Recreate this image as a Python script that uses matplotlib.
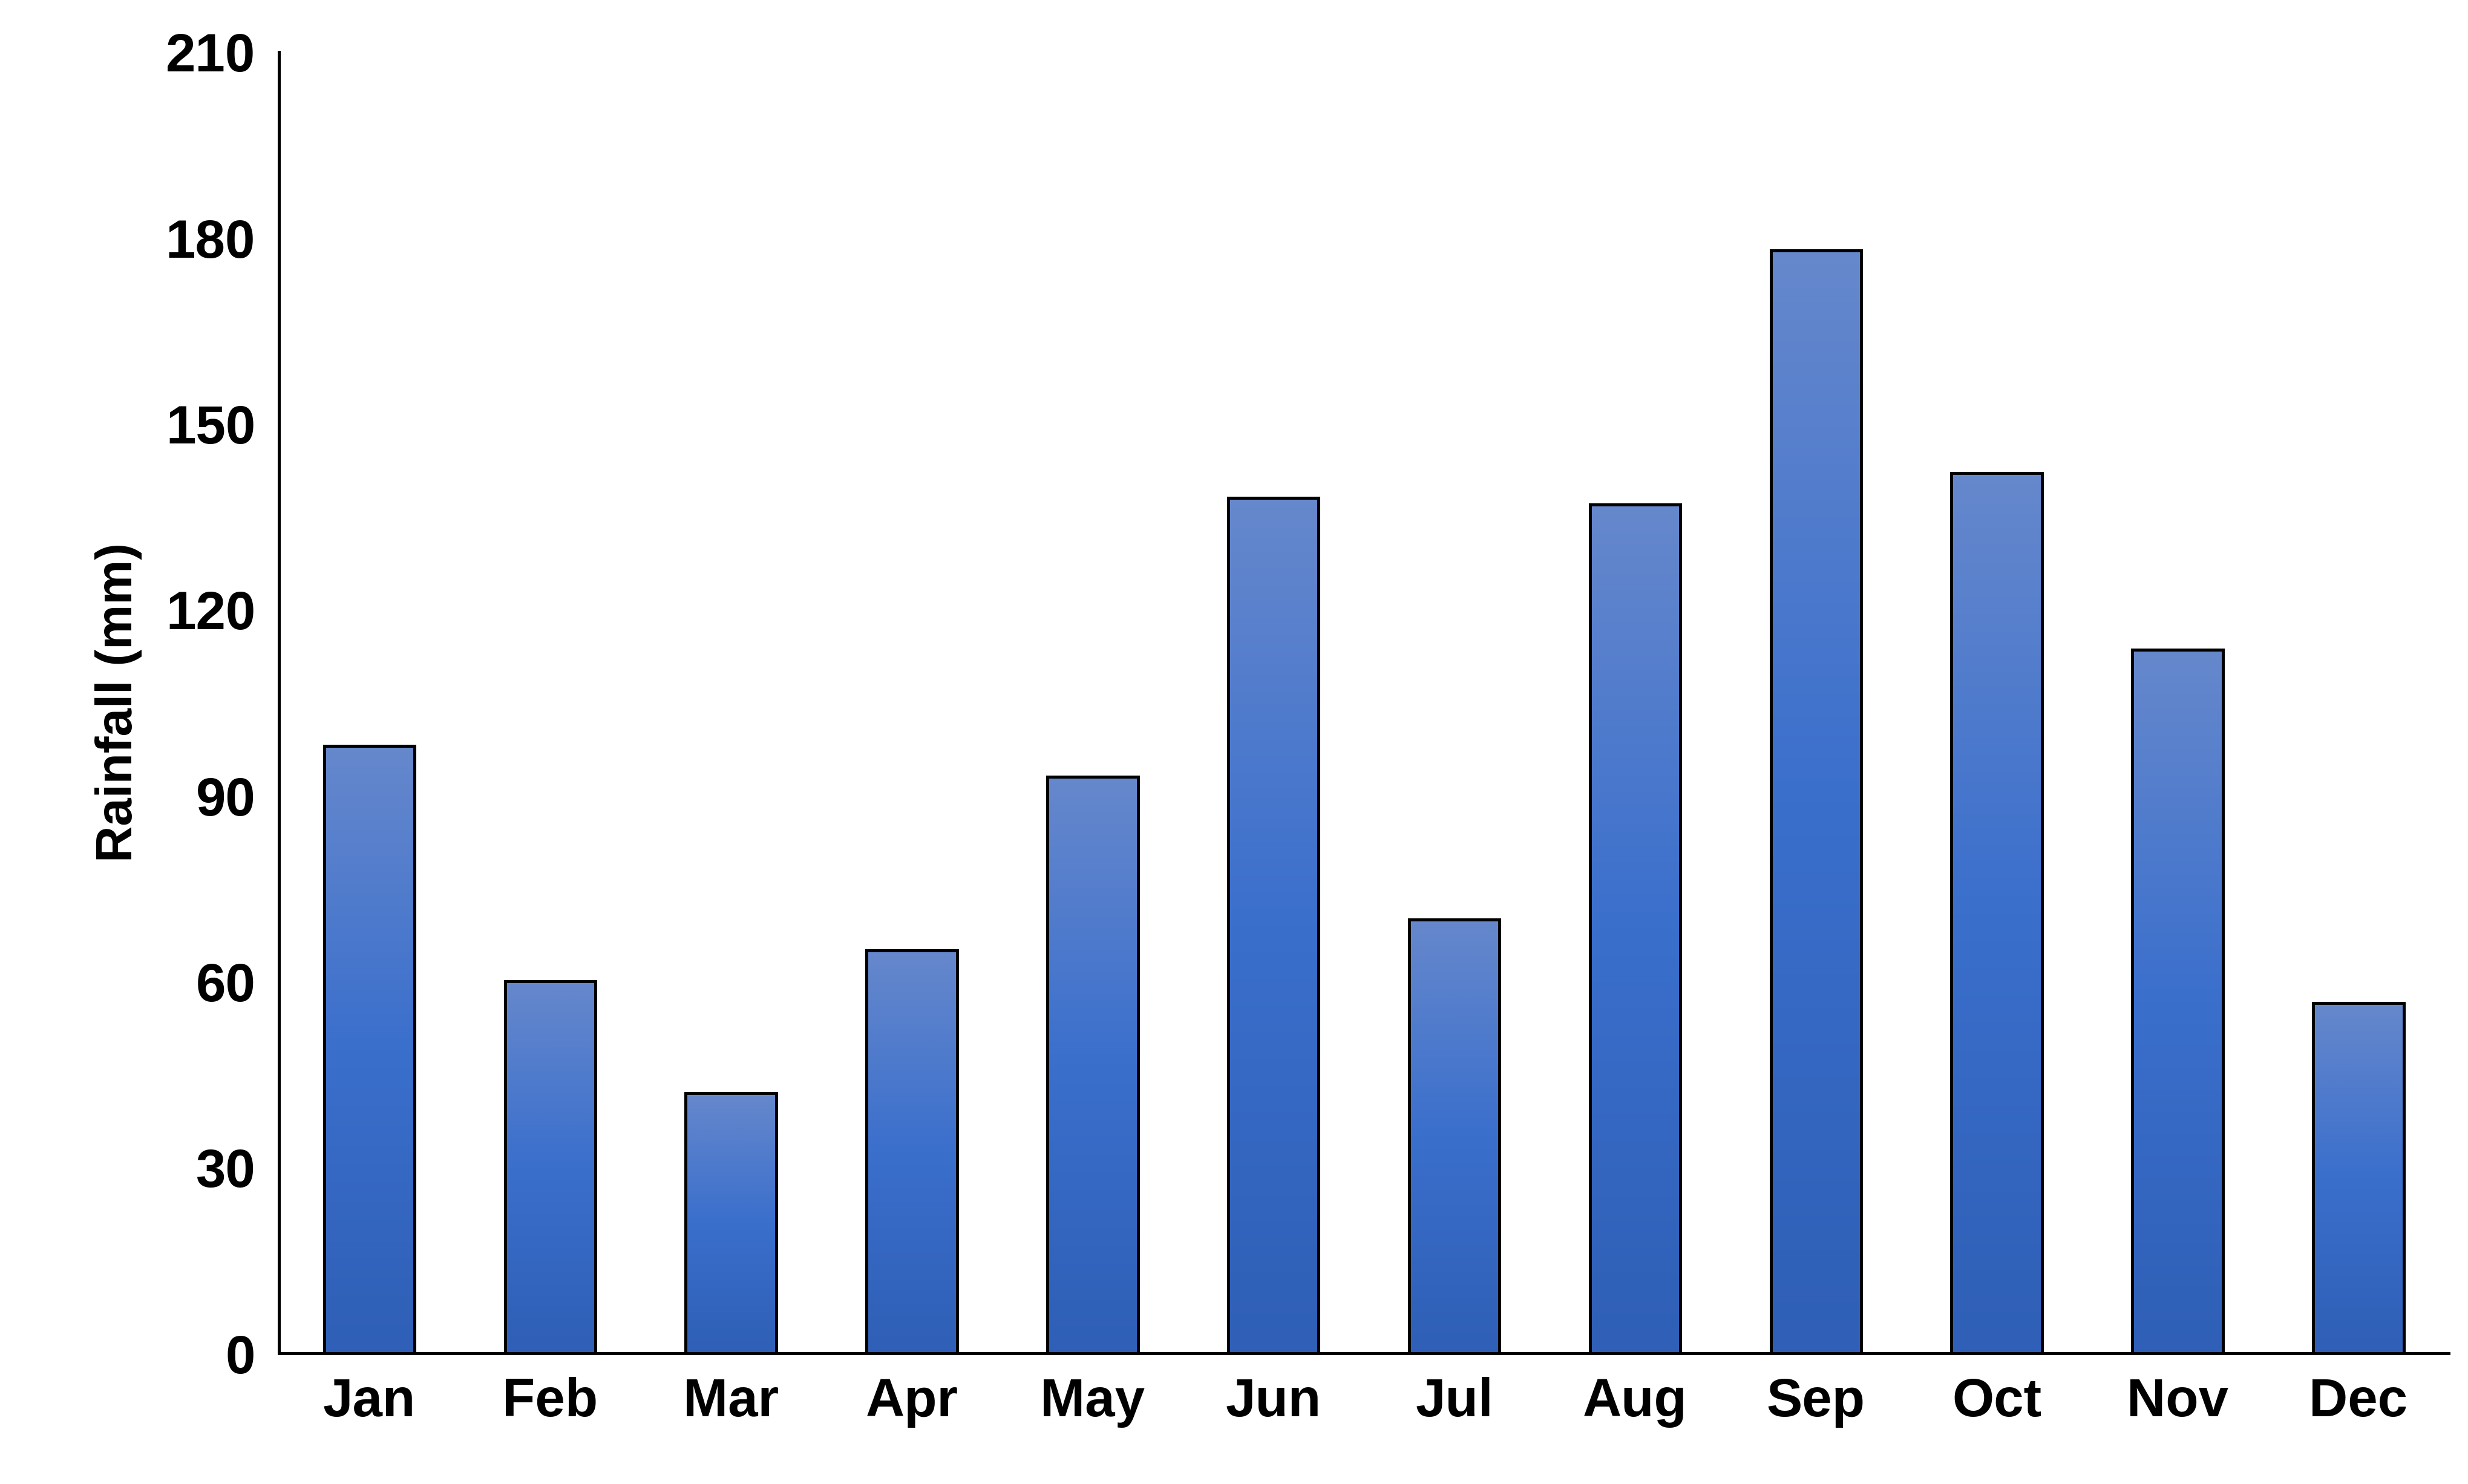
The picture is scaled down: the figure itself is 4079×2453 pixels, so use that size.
import numpy as np
import matplotlib
matplotlib.use("Agg")
from matplotlib import pyplot as plt
from matplotlib.colors import LinearSegmentedColormap

months = ["Jan", "Feb", "Mar", "Apr", "May", "Jun", "Jul", "Aug", "Sep", "Oct", "Nov", "Dec"]
rainfall = [98, 60, 42, 65, 93, 138, 70, 137, 178, 142, 113.5, 56.5]
yticks = [0, 30, 60, 90, 120, 150, 180, 210]

plt.rcParams['font.family'] = ['Liberation Sans', 'DejaVu Sans']
plt.rcParams['font.weight'] = 'bold'

fig = plt.figure(figsize=(20.4, 12.265), dpi=200)
ax = fig.add_axes([0.113, 0.088, 0.879, 0.877])

# vertical gradient: darker bottom, brighter middle, paler top
cmap = LinearSegmentedColormap.from_list("bar", ["#2f5fb6", "#3a6fcc", "#6688cc"])
grad = np.linspace(0, 1, 256).reshape(-1, 1)

width = 0.5
for i, v in enumerate(rainfall):
    ax.imshow(grad, cmap=cmap, origin="lower", aspect="auto",
              extent=(i - width / 2, i + width / 2, 0, v), zorder=2)
    ax.bar(i, v, width=width, facecolor="none", edgecolor="black", linewidth=1.8, zorder=3)

ax.set_xlim(-0.5, 11.5)
ax.set_ylim(0, 210)
ax.set_xticks(range(len(months)))
ax.set_xticklabels(months)
ax.set_yticks(yticks)
ax.tick_params(axis="both", length=0, labelsize=32, pad=14)
ax.set_ylabel("Rainfall (mm)", fontsize=30, fontweight="bold", labelpad=14)
for s in ["top", "right"]:
    ax.spines[s].set_visible(False)
for s in ["left", "bottom"]:
    ax.spines[s].set_linewidth(1.8)

fig.savefig("out.png", dpi=200)
